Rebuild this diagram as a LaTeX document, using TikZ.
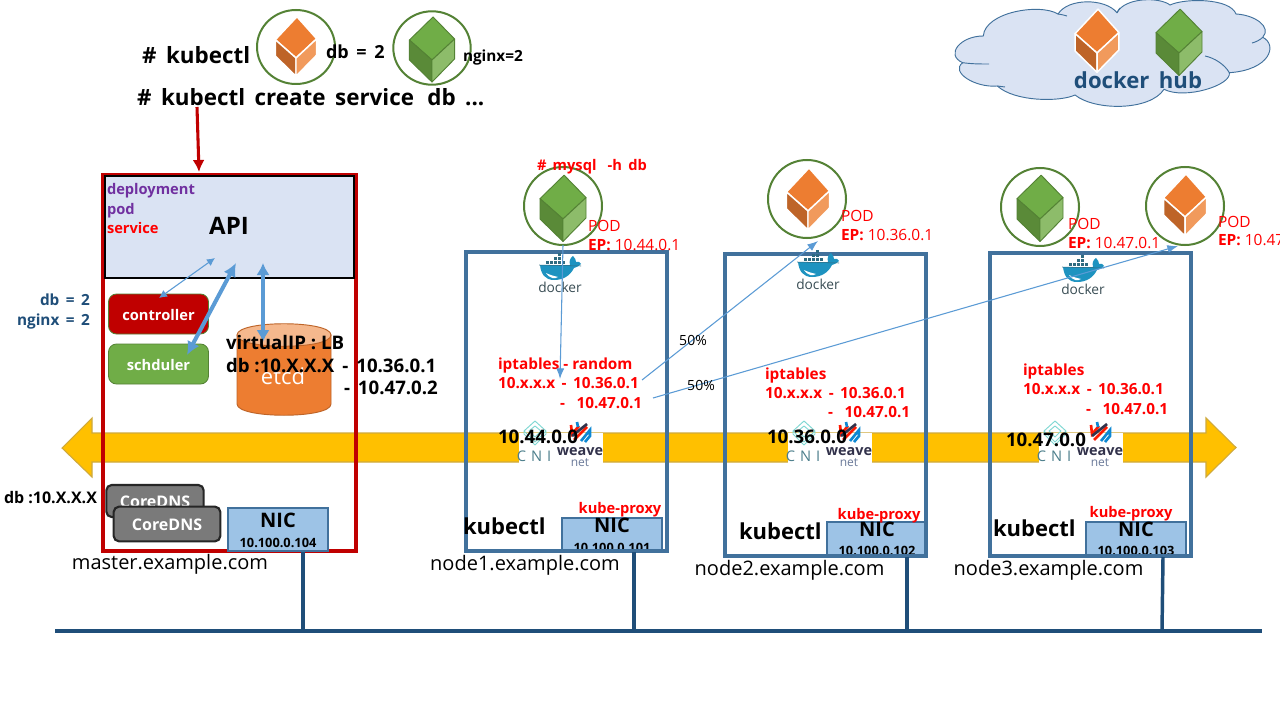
\documentclass[tikz,border=0pt]{standalone}
\usepackage{fontspec}
\setmainfont{Open Sans}
\usetikzlibrary{arrows.meta}
\definecolor{kred}{HTML}{C00000}
\definecolor{pure}{HTML}{FF0000}
\definecolor{kpur}{HTML}{7030A0}
\definecolor{kblue}{HTML}{5B9BD5}
\definecolor{frameb}{HTML}{41719C}
\definecolor{navy}{HTML}{1F4E79}
\definecolor{kgreen}{HTML}{548235}
\definecolor{paleb}{HTML}{DAE3F3}
\definecolor{nicb}{HTML}{9DC3E6}
\definecolor{kyel}{HTML}{FFC000}
\definecolor{kyeld}{HTML}{CFA93C}
\definecolor{oA}{HTML}{ED7D31}
\definecolor{oB}{HTML}{BE6428}
\definecolor{oC}{HTML}{F19A5C}
\definecolor{gA}{HTML}{70AD47}
\definecolor{gB}{HTML}{5A8A38}
\definecolor{gC}{HTML}{8DBC6A}
\definecolor{dock}{HTML}{1E93C0}
\definecolor{dockd}{HTML}{2F6B80}
\definecolor{dockt}{HTML}{394D54}
\definecolor{cni}{HTML}{7FD8D3}
\definecolor{cnit}{HTML}{4D7F8C}
\definecolor{wvd}{HTML}{32324B}
\definecolor{wvn}{HTML}{6B7A99}
\tikzset{
  x=0.75pt,y=-0.75pt,
  txt/.style={font=\fontsize{#1}{#1}\selectfont,inner sep=0pt,outer sep=0pt,text height=1.04em,text depth=.1em},
  btxt/.style={font=\bfseries\fontsize{#1}{#1}\selectfont,inner sep=0pt,outer sep=0pt,text height=1.04em,text depth=.1em},
  podring/.style={draw=kgreen,line width=1.5pt,fill=none},
  nodeframe/.style={draw=frameb,line width=2.3pt},
  nicbox/.style={draw=frameb,fill=nicb,line width=.8pt},
  thinarrow/.style={draw=kblue,line width=.8pt,-{Latex[length=8pt,width=6pt]}},
  netline/.style={draw=navy,line width=2.6pt},
  corebox/.style={draw=black!85,fill=black!52,line width=1.6pt,rounded corners=4pt},
}
\newcommand\cubeO[3]{\begin{scope}[shift={(#1,#2)},scale=#3]
  \filldraw[fill=oA,draw=white,line width=1.1pt,line join=round] (1,-43)--(21.5,-20)--(0,0)--(-21.5,-19)--cycle;
  \filldraw[fill=oB,draw=white,line width=1.1pt,line join=round] (-21.5,-19)--(0,0)--(0,19)--(-21.5,-2)--cycle;
  \filldraw[fill=oC,draw=white,line width=1.1pt,line join=round] (21.5,-20)--(0,0)--(0,19)--(21.5,-3)--cycle;
\end{scope}}
\newcommand\cubeG[3]{\begin{scope}[shift={(#1,#2)},scale=#3]
  \filldraw[fill=gA,draw=kgreen,line width=.7pt,line join=round] (1,-41)--(21.5,-20)--(0,0)--(-21.5,-19)--cycle;
  \filldraw[fill=gB,draw=kgreen,line width=.7pt,line join=round] (-21.5,-19)--(0,0)--(0,21)--(-21.5,0)--cycle;
  \filldraw[fill=gC,draw=kgreen,line width=.7pt,line join=round] (21.5,-20)--(0,0)--(0,21)--(21.5,-1)--cycle;
\end{scope}}
\newcommand\dockerlogo[3]{\begin{scope}[shift={(#1,#2)}]
  \foreach \a/\b in {-14/-26.5,-10/-26.5,-6/-26.5,-2/-26.5,2/-26.5,-6/-30.5,-2/-30.5,-2/-34.5}
    \fill[dockd] (\a,\b) rectangle ++(3.4,3.4);
  \fill[dock] (-20,-22) -- (10,-22) .. controls (9,-26) and (10,-29) .. (13,-31)
     .. controls (15,-29) and (16,-27) .. (16,-25) .. controls (18,-26) and (20,-25) .. (21,-23)
     .. controls (18,-20) and (16,-20) .. (14,-19) .. controls (10,-11) and (3,-7) .. (-6,-7)
     .. controls (-15,-7) and (-19,-13) .. (-20,-22) -- cycle;
  \fill[white] (-14,-14) .. controls (-10,-8) and (-5,-8) .. (-2,-10) .. controls (-6,-11) and (-10,-12) .. (-14,-14) -- cycle;
  \draw[dockd,line width=.4pt] (-21,-22) -- (21,-21);
  \node[txt=10.3,text=dockt,anchor=center] (#3) at (0,-1) {docker};
\end{scope}}
\newcommand\netlogos[4]{\begin{scope}[shift={(#1,#2)}]
  \fill[white] (0,0) rectangle (84,30.5);
  \draw[cni,line width=.7pt,line join=round] (16,-12)--(27,-2)--(16,9)--(5,-2)--cycle (16,-7)--(22,-2)--(16,4)--(10,-2)--cycle (5,-2)--(5,1)--(16,12)--(27,1)--(27,-2);
  \node[txt=11,text=cnit] (#3) at (15,22) {C\,\,N\,\,I};
  \draw[pure!80!orange,line width=2pt] (52,-8)--(53,1)--(60,-7) (55,7)--(62,0)--(68,-6);
  \draw[cyan!70!blue,line width=2pt] (58,-11)--(59,-6) (62,8)--(71,-3)--(71,3)--(66,9);
  \draw[wvd,line width=2pt] (53,3)--(68,-9);
  \node[btxt=10.8,text=wvd] (#4) at (61,16) {weave};
  \node[txt=9,text=wvn] (#4n) at (61,27) {net};
\end{scope}}
\begin{document}
\begin{tikzpicture}
\useasboundingbox (0,0) rectangle (1280,720);
\fill[white] (0,0) rectangle (1280,720);
% cloud
\path[fill=paleb,draw=frameb,line width=.7pt]
 (983.3,36) .. controls (985,12) and (1040,3) .. (1058,14)
 .. controls (1068,-2) and (1105,-2) .. (1117,12.7)
 .. controls (1125,-3) and (1160,-3) .. (1170,5)
 .. controls (1185,-2) and (1230,-2) .. (1236,14)
 .. controls (1255,15) and (1272,27) .. (1262.7,37.3)
 .. controls (1278,45) and (1270,70) .. (1229.3,72.7)
 .. controls (1232,85) and (1185,100) .. (1164,89.3)
 .. controls (1150,111) and (1095,111) .. (1075,95)
 .. controls (1060,102) and (1015,102) .. (997.3,86)
 .. controls (975,88) and (950,72) .. (962.7,62.7)
 .. controls (945,55) and (960,36) .. (983.3,36) -- cycle;
\draw[frameb,line width=.7pt] (962.7,62.7) .. controls (972,64) and (980,64) .. (989,64)
 (1205,56) .. controls (1215,58) and (1225,65) .. (1229.3,72.7)
 (1262.7,37.3) .. controls (1260,40) and (1256,42) .. (1252,43)
 (1058,14) .. controls (1061,14.5) and (1064,15) .. (1067,16)
 (1117,12.7) .. controls (1118,11) and (1119,9) .. (1120,8)
 (997.3,86) -- (1005,87);
\cubeO{1097}{53}{1.02}
\cubeG{1179}{53}{1.07}
\node[btxt=16.6,text=navy] (hub) at (1138,82) {docker\, hub};
% yellow arrow
\path[fill=kyel,draw=kyeld,line width=.8pt] (62,448)--(92,418)--(92,433)--(1206,433)--(1206,418)--(1236,447.5)--(1206,477)--(1206,462)--(92,462)--(92,477)--cycle;
% master
\draw[kred,line width=2.3pt] (103,175) rectangle (356,551);
\draw[fill=paleb,draw=black,line width=.8pt] (105,176) rectangle (354,278);
\node[btxt=11,text=kpur,anchor=west] (ldep) at (107,188) {deployment};
\node[btxt=11,text=kpur,anchor=west] (lpod) at (107,208) {pod};
\node[btxt=11,text=pure,anchor=west] (lsvc) at (107,227) {service};
\node[btxt=18] (api) at (229,228) {API};
\node[btxt=11,fill=kred,draw=kgreen,line width=.6pt,rounded corners=6pt,text=white,minimum width=75pt,minimum height=30pt] (ctrl) at (158.5,314) {controller};
\node[btxt=11,fill=gA,draw=kgreen,line width=.6pt,rounded corners=6pt,text=white,minimum width=75pt,minimum height=30pt] (sched) at (158.5,364) {schduler};
% etcd
\path[fill=oA,draw=oB,line width=.7pt] (237,335)--(237,404) .. controls (237,419) and (331,419) .. (331,404)--(331,335)--cycle;
\path[fill=oC!70!white,draw=oB,line width=.7pt] (237,335) .. controls (237,320) and (331,320) .. (331,335) .. controls (331,350) and (237,350) .. (237,335)--cycle;
\node[txt=16.5,text=white] (etcd) at (283,378) {etcd};
% connectors master
\coordinate (a1) at (215,258);\coordinate (a2) at (159,298);
\coordinate (b1) at (236,263);\coordinate (b2) at (187,355);
\coordinate (c1) at (263,263);\coordinate (c2) at (263,342);
\draw[kblue,line width=.8pt,{Latex[length=6pt,width=6pt]}-{Latex[length=6pt,width=6pt]}] (a1)--(a2);
\draw[kblue,line width=3pt,{Latex[length=10pt,width=10pt]}-{Latex[length=10pt,width=10pt]}] (b1)--(b2);
\draw[kblue,line width=2.6pt,{Latex[length=9pt,width=10pt]}-{Latex[length=9pt,width=10pt]}] (c1)--(c2);
\node[btxt=14,anchor=west] (vip1) at (226,343) {virtualIP : LB};
\node[btxt=14,anchor=west] (vip2) at (226,366) {db :10.X.X.X\, -\, 10.36.0.1};
\node[btxt=14,anchor=west] (vip3) at (344,388) {-\, 10.47.0.2};
\node[btxt=11.5,text=navy,anchor=east] (ldb) at (90,299) {db\, =\, 2};
\node[btxt=11.5,text=navy,anchor=east] (lng) at (90,319) {nginx\, =\, 2};
\node[btxt=12,anchor=west] (ldbx) at (4,497) {db :10.X.X.X};
\node[corebox,minimum width=73pt,minimum height=24pt] (core1) at (155,501) {};
\node[btxt=12,text=white] at (155,501) {CoreDNS};
\node[corebox,minimum width=80pt,minimum height=26pt] (core2) at (167,524) {};
\node[btxt=12,text=white] at (167,524) {CoreDNS};
% net logos
\netlogos{519}{433}{c1l}{w1l}
\netlogos{788}{433}{c2l}{w2l}
\netlogos{1039}{433}{c3l}{w3l}
% NICs
\draw[nicbox] (228,508) rectangle (328,551);
\draw[nicbox] (562,518) rectangle (662,551);
\draw[nicbox] (827,522) rectangle (926,555);
\draw[nicbox] (1086,522) rectangle (1186,555);
\node[btxt=15] (n0) at (278,521) {NIC};
\node[btxt=9.6] (i0) at (278,541) {10.100.0.104};
\node[btxt=15] (n1) at (612,526) {NIC};
\node[btxt=9.6] (i1) at (612,546) {10.100.0.101};
\node[btxt=15] (n2) at (877,530) {NIC};
\node[btxt=9.6] (i2) at (877,549) {10.100.0.102};
\node[btxt=15] (n3) at (1136,530) {NIC};
\node[btxt=9.6] (i3) at (1136,549) {10.100.0.103};
% frames
\draw[nodeframe] (466,252) rectangle (667,551);
\draw[nodeframe] (725,254) rectangle (926,556);
\draw[nodeframe] (990,253) rectangle (1191,556);
% network
\coordinate (busl) at (55,631);\coordinate (busr) at (1262,631);
\draw[netline] (busl)--(busr);
\draw[netline] (303,552)--(303,631);
\draw[netline] (634,552)--(634,631);
\draw[netline] (907,557)--(907,631);
\draw[netline] (1163,557)--(1162,631);
% docker
\dockerlogo{560}{287}{d1}
\dockerlogo{818}{284}{d2}
\dockerlogo{1083}{289}{d3}
% pods
\draw[podring] (563,206) circle (39);
\cubeG{563}{219}{1.07}
\draw[podring] (807,199) circle (39);
\cubeO{808}{211}{1}
\draw[podring] (1040,207) circle (39);
\cubeG{1040}{219}{1.07}
\draw[podring] (1185,206) circle (39);
\cubeO{1185}{217}{1}
% top row
\draw[podring] (296,47) ellipse [x radius=39,y radius=37];
\cubeO{296}{58}{.96}
\draw[podring] (432,48) ellipse [x radius=38.7,y radius=36.7];
\cubeG{432}{60}{1.05}
\node[btxt=16.8,anchor=west] (t1) at (142,57) {\#\, kubectl};
\node[btxt=16.8,anchor=west] (t2) at (137,99) {\#\, kubectl\, create\, service\,\, db\, ...};
\node[btxt=13.5,anchor=west] (t3) at (326,52) {db\, =\, 2};
\node[btxt=11.5,anchor=west] (t4) at (463,55) {nginx=2};
\coordinate (rs) at (197,107);\coordinate (re) at (199,172);
\draw[kred,line width=2.3pt,-{Latex[length=9pt,width=9pt]}] (rs)--(re);
% pod labels
\node[btxt=11,text=pure,anchor=west] (my) at (537,164) {\#\, mysql\,\,\, -h\, db};
\foreach \nm/\xx/\ya/\yb/\ip in {p1/588/225/244/10.44.0.1,p2/841/215/234/10.36.0.1,p3/1068/223/242/10.47.0.1,p4/1218/221/239/10.47}{
  \node[txt=11.6,text=pure,anchor=west] (\nm a) at (\xx,\ya) {POD};
  \node[txt=11.6,text=pure,anchor=west] (\nm b) at (\xx,\yb) {\textbf{EP:} \ip};
}
% iptables
\node[btxt=11.5,text=pure,anchor=west] (ip1a) at (498,363) {iptables - random};
\node[btxt=11.5,text=pure,anchor=west] (ip1b) at (498,382) {10.x.x.x\, -\, 10.36.0.1};
\node[btxt=11.5,text=pure,anchor=west] (ip1c) at (560,402) {-\,\,\, 10.47.0.1};
\node[btxt=11.5,text=pure,anchor=west] (ip2a) at (765,373) {iptables};
\node[btxt=11.5,text=pure,anchor=west] (ip2b) at (765,392) {10.x.x.x\, -\, 10.36.0.1};
\node[btxt=11.5,text=pure,anchor=west] (ip2c) at (828,411) {-\,\,\, 10.47.0.1};
\node[btxt=11.5,text=pure,anchor=west] (ip3a) at (1023,369) {iptables};
\node[btxt=11.5,text=pure,anchor=west] (ip3b) at (1023,388) {10.x.x.x\, -\, 10.36.0.1};
\node[btxt=11.5,text=pure,anchor=west] (ip3c) at (1086,408) {-\,\,\, 10.47.0.1};
% flows
\coordinate (f1s) at (563,245);\coordinate (f1e) at (560,379);
\coordinate (f2s) at (642,380);\coordinate (f2e) at (818,241);
\coordinate (f3s) at (653,398);\coordinate (f3e) at (1178,246);
\draw[thinarrow] (f1s)--(f1e);
\draw[thinarrow] (f2s)--(f2e);
\draw[thinarrow] (f3s)--(f3e);
\node[txt=10.5] (pc1) at (693,339) {50\%};
\node[txt=10.5] (pc2) at (701,384) {50\%};
% cidr
\node[btxt=14,anchor=west] (c1) at (498,437) {10.44.0.0};
\node[btxt=14,anchor=west] (c2) at (767,437) {10.36.0.0};
\node[btxt=14,anchor=west] (c3) at (1006,440) {10.47.0.0};
% kube-proxy kubectl
\node[btxt=11,text=pure] (kp1) at (620,507) {kube-proxy};
\node[btxt=11,text=pure] (kp2) at (879,513) {kube-proxy};
\node[btxt=11,text=pure] (kp3) at (1131,511) {kube-proxy};
\node[btxt=16.5,anchor=west] (kc1) at (463,528) {kubectl};
\node[btxt=16.5,anchor=west] (kc2) at (739,533) {kubectl};
\node[btxt=16.5,anchor=west] (kc3) at (993,530) {kubectl};
% hosts
\node[txt=15] (h0) at (170,563) {master.example.com};
\node[txt=15] (h1) at (525,564) {node1.example.com};
\node[txt=15] (h2) at (789.5,569) {node2.example.com};
\node[txt=15] (h3) at (1048.5,569) {node3.example.com};
\end{tikzpicture}
\end{document}
